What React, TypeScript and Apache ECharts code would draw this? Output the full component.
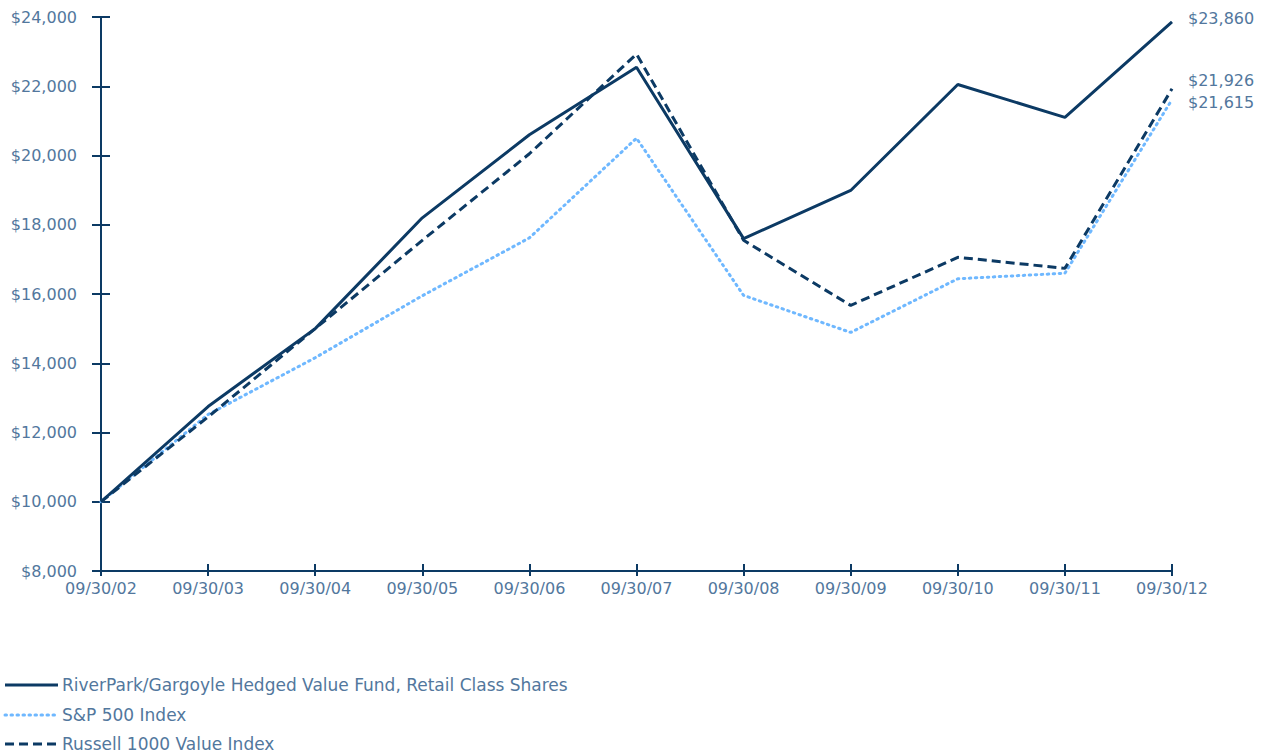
import React, { useEffect, useRef } from "react";
import * as echarts from "echarts";

// Growth of a $10,000 investment, fiscal year-ends
const dates = [
  "09/30/02", "09/30/03", "09/30/04", "09/30/05", "09/30/06", "09/30/07",
  "09/30/08", "09/30/09", "09/30/10", "09/30/11", "09/30/12",
];
const fundValues = [10000, 12750, 15000, 18200, 20600, 22550, 17600, 18990, 22050, 21100, 23860];
const sp500Values = [10000, 12520, 14160, 15950, 17620, 20500, 15960, 14890, 16440, 16600, 21615];
const russellValues = [10000, 12450, 15000, 17550, 20050, 22930, 17550, 15670, 17060, 16740, 21926];

const fundName = "RiverPark/Gargoyle Hedged Value Fund, Retail Class Shares";
const sp500Name = "S&P 500 Index";
const russellName = "Russell 1000 Value Index";

const yTicks = { min: 8000, max: 24000, interval: 2000 };

const NAVY = "#0c3a64";
const LIGHT = "#6fb8ff";
const TEXT = "#52779d";
const FONT = "'DejaVu Sans', Verdana, sans-serif";

const money = (v: number) => "$" + v.toLocaleString("en-US");

export default function App() {
  const ref = useRef<HTMLDivElement>(null);

  useEffect(() => {
    if (!ref.current) return;
    const chart = echarts.init(ref.current, null, { renderer: "svg" });
    const grid = { left: 101, right: 98, top: 17, bottom: 182 };

    const axisLine = { show: true, lineStyle: { color: NAVY, width: 2 } };
    const tickStyle = { color: NAVY, width: 2 };

    const endLabel = (dy: number) => ({
      show: true,
      formatter: (p: any) => money(p.value),
      color: TEXT,
      fontFamily: FONT,
      fontSize: 16,
      distance: 5,
      offset: [11, dy],
    });

    const legendRows = [
      { name: fundName, color: NAVY, dash: undefined as any, cap: "butt", y: 685 },
      { name: sp500Name, color: LIGHT, dash: [1.5, 4.5], cap: "round", y: 715 },
      { name: russellName, color: NAVY, dash: [9, 5], cap: "butt", y: 744 },
    ];

    const graphic: any[] = [];
    legendRows.forEach((r) => {
      graphic.push({
        type: "line",
        shape: { x1: 5, y1: r.y, x2: 58, y2: r.y },
        style: { stroke: r.color, lineWidth: 3, lineDash: r.dash, lineCap: r.cap },
      });
      graphic.push({
        type: "text",
        x: 62,
        y: r.y,
        style: {
          text: r.name,
          fill: TEXT,
          font: `17px ${FONT}`,
          textVerticalAlign: "middle",
        },
      });
    });

    chart.setOption({
      animation: false,
      grid,
      xAxis: [
        {
          type: "category",
          data: dates,
          boundaryGap: false,
          axisLine,
          axisTick: { show: true, inside: true, length: 7, lineStyle: tickStyle },
          axisLabel: { color: TEXT, fontFamily: FONT, fontSize: 16, margin: 9 },
          splitLine: { show: false },
        },
        {
          type: "category",
          data: dates,
          boundaryGap: false,
          position: "bottom",
          axisLine: { show: false },
          axisTick: { show: true, inside: false, length: 5, lineStyle: tickStyle },
          axisLabel: { show: false },
          splitLine: { show: false },
        },
      ],
      yAxis: [
        {
          type: "value",
          ...yTicks,
          axisLine,
          axisTick: { show: true, inside: false, length: 9, lineStyle: tickStyle },
          axisLabel: {
            color: TEXT,
            fontFamily: FONT,
            fontSize: 16,
            margin: 24,
            formatter: (v: number) => money(v),
          },
          splitLine: { show: false },
        },
        {
          type: "value",
          ...yTicks,
          position: "left",
          axisLine: { show: false },
          axisTick: { show: true, inside: true, length: 9, lineStyle: tickStyle },
          axisLabel: { show: false },
          splitLine: { show: false },
        },
      ],
      series: [
        {
          name: sp500Name,
          type: "line",
          data: sp500Values,
          showSymbol: false,
          lineStyle: { color: LIGHT, width: 3, type: [1.5, 4.5], cap: "round" },
          endLabel: endLabel(3),
          z: 2,
        },
        {
          name: russellName,
          type: "line",
          data: russellValues,
          showSymbol: false,
          lineStyle: { color: NAVY, width: 3, type: [9, 5] },
          endLabel: endLabel(-8),
          z: 3,
        },
        {
          name: fundName,
          type: "line",
          data: fundValues,
          showSymbol: false,
          lineStyle: { color: NAVY, width: 3, type: "solid" },
          endLabel: endLabel(-3),
          z: 4,
        },
      ],
      graphic,
    });

    return () => chart.dispose();
  }, []);

  return (
    <div
      ref={ref}
      style={{ position: "fixed", left: 0, top: 0, width: 1270, height: 753, background: "#fff" }}
    />
  );
}
